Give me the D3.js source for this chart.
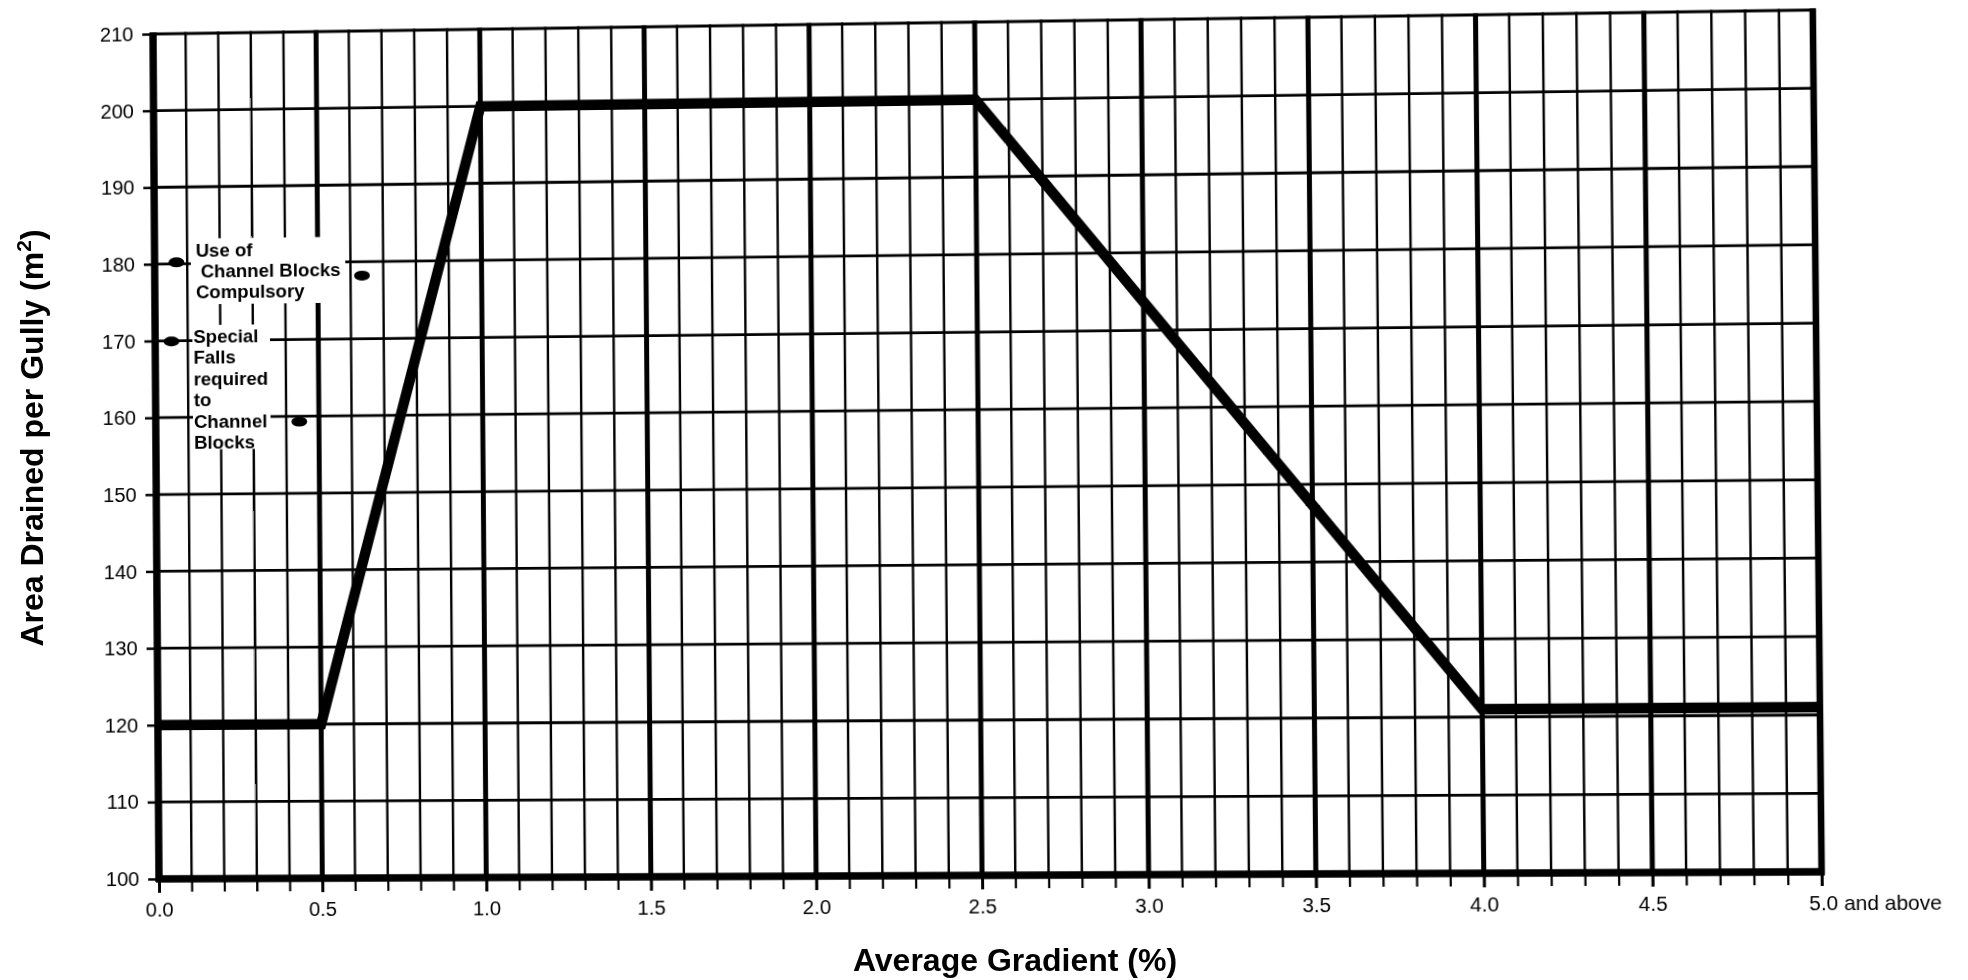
<!DOCTYPE html>
<html>
<head>
<meta charset="utf-8">
<script src="https://cdn.jsdelivr.net/npm/d3@7"></script>
<style>
  html, body { margin: 0; padding: 0; background: #fff; }
  svg { position: absolute; left: 0; top: 0; }
  #sheet { transform-origin: 0 0; }
  text { font-family: "Liberation Sans", Arial, Helvetica, sans-serif; fill: #000; }
</style>
</head>
<body>
<svg id="sheet" width="1968" height="980"></svg>
<svg id="titles" width="1968" height="980"></svg>
<script>
// Design curve: area drained per gully against average gradient
const gradients = [0.0, 0.5, 1.0, 2.5, 4.0, 5.0];
const areas     = [120, 120, 200, 200, 121, 121];

// Axis ticks
const xTickValues = [0, 0.5, 1, 1.5, 2, 2.5, 3, 3.5, 4, 4.5, 5];
const xTickLabels = ["0.0", "0.5", "1.0", "1.5", "2.0", "2.5", "3.0", "3.5", "4.0", "4.5", "5.0 and above"];
const yTickValues = [100, 110, 120, 130, 140, 150, 160, 170, 180, 190, 200, 210];

// Guidance notes on the sheet (extent in gradient / area units)
const noteTexts = [
  ["Use of", " Channel Blocks", "Compulsory"],
  ["Special", "Falls", "required", "to", "Channel", "Blocks"]
];
const noteExtents = [
  { g0: 0.111, g1: 0.585, aTop: 183.3, aBottom: 174.7 },
  { g0: 0.114, g1: 0.352, aTop: 172.0, aBottom: 155.8 }
];
// Arrow heads marking the ends of each note's range
const markerPoints = [[0.067, 180.2], [0.635, 178.2], [0.05, 169.9], [0.44, 159.3]];

// ---- layout ----
const frame = { left: 156, top: 22, right: 1818, bottom: 876 };
// where the four frame corners land on the page (TL, TR, BR, BL): a slightly keystoned sheet
const frameCorners = [[153, 34], [1813, 10], [1822, 872], [159, 879]];

const x = d3.scaleLinear().domain([0, 5]).range([frame.left, frame.right]);
const y = d3.scaleLinear().domain([100, 210]).range([frame.bottom, frame.top]);

// projective map from the frame rectangle to its corner quad, applied as a CSS matrix3d
function frameToQuad(f, q) {
  const [x0, y0] = q[0], [x1, y1] = q[1], [x2, y2] = q[2], [x3, y3] = q[3];
  const dx1 = x1 - x2, dx2 = x3 - x2, dx3 = x0 - x1 + x2 - x3;
  const dy1 = y1 - y2, dy2 = y3 - y2, dy3 = y0 - y1 + y2 - y3;
  const den = dx1 * dy2 - dx2 * dy1;
  const g = (dx3 * dy2 - dx2 * dy3) / den;
  const h = (dx1 * dy3 - dx3 * dy1) / den;
  const S = [
    [x1 - x0 + g * x1, x3 - x0 + h * x3, x0],
    [y1 - y0 + g * y1, y3 - y0 + h * y3, y0],
    [g, h, 1]
  ];
  const w = f.right - f.left, hh = f.bottom - f.top;
  const N = [[1 / w, 0, -f.left / w], [0, 1 / hh, -f.top / hh], [0, 0, 1]];
  const M = [[0, 0, 0], [0, 0, 0], [0, 0, 0]];
  for (let i = 0; i < 3; i++)
    for (let j = 0; j < 3; j++)
      for (let k = 0; k < 3; k++) M[i][j] += S[i][k] * N[k][j];
  return `matrix3d(${M[0][0]},${M[1][0]},0,${M[2][0]},${M[0][1]},${M[1][1]},0,${M[2][1]},0,0,1,0,${M[0][2]},${M[1][2]},0,${M[2][2]})`;
}

const sheet = d3.select("#sheet").style("transform", frameToQuad(frame, frameCorners));

// ---- grid ----
const xGrid = d3.range(0, 51).map(i => i / 10);
const yGrid = d3.range(100, 211, 10);

sheet.append("g").selectAll("line").data(xGrid).join("line")
  .attr("x1", d => x(d)).attr("x2", d => x(d))
  .attr("y1", y(100) + 3).attr("y2", y(210) - 1.5)
  .attr("stroke", "#000")
  .attr("stroke-width", (d, i) => i === 0 ? 7.5 : i === 50 ? 6.5 : (i % 5 === 0 ? 5 : 2.4));

sheet.append("g").selectAll("line").data(yGrid).join("line")
  .attr("x1", x(0) - 3).attr("x2", x(5) + 3)
  .attr("y1", d => y(d)).attr("y2", d => y(d))
  .attr("stroke", "#000")
  .attr("stroke-width", d => d === 100 ? 7.5 : d === 210 ? 3 : 2.8);

// ---- axes ----
sheet.append("g")
  .attr("transform", `translate(0,${y(100)})`)
  .call(d3.axisBottom(x).tickValues(xGrid).tickSize(13).tickFormat(""))
  .call(g => {
    g.select(".domain").remove();
    g.selectAll("text").remove();
    g.selectAll("line").attr("stroke", "#000").attr("stroke-width", 2.2);
  });

sheet.append("g")
  .attr("transform", `translate(0,${y(100)})`)
  .call(d3.axisBottom(x).tickValues(xTickValues).tickSize(14).tickPadding(9)
    .tickFormat((d, i) => xTickLabels[i]))
  .call(g => {
    g.select(".domain").remove();
    g.selectAll("line").attr("stroke", "#000").attr("stroke-width", 3);
    g.selectAll("text").attr("font-size", 20.5).attr("fill", "#000")
      .style("font-family", '"Liberation Sans", Arial, sans-serif');
    g.selectAll("text").filter((d, i) => i === xTickValues.length - 1)
      .attr("text-anchor", "start").attr("x", -13);
  });

sheet.append("g")
  .attr("transform", `translate(${x(0)},0)`)
  .call(d3.axisLeft(y).tickValues(yTickValues).tickSize(11).tickPadding(9).tickFormat(d3.format("d")))
  .call(g => {
    g.select(".domain").remove();
    g.selectAll("line").attr("stroke", "#000").attr("stroke-width", 2.5);
    g.selectAll("text").attr("font-size", 20.5).attr("fill", "#000")
      .style("font-family", '"Liberation Sans", Arial, sans-serif');
  });

// ---- design curve ----
const curve = gradients.map((g, i) => [g, areas[i]]);
sheet.append("path")
  .datum(curve)
  .attr("d", d3.line().x(d => x(d[0])).y(d => y(d[1])))
  .attr("fill", "none")
  .attr("stroke", "#000")
  .attr("stroke-width", 10.5)
  .attr("stroke-linejoin", "miter")
  .attr("stroke-linecap", "butt");

// ---- notes ----
const defs = sheet.append("defs");
const noteLayout = [
  { baseline: 19, step: 21, indent: [5, 10, 5] },
  { baseline: 18, step: 21.4, indent: [1, 1, 1, 1, 1, 1] }
];
noteExtents.forEach((b, k) => {
  const bx = x(b.g0), by = y(b.aTop), bw = x(b.g1) - x(b.g0), bh = y(b.aBottom) - y(b.aTop);
  defs.append("clipPath").attr("id", "note-clip-" + k)
    .append("rect").attr("x", bx).attr("y", by).attr("width", bw).attr("height", bh);
  const g = sheet.append("g").attr("clip-path", `url(#note-clip-${k})`);
  g.append("rect").attr("x", bx).attr("y", by).attr("width", bw).attr("height", bh).attr("fill", "#fff");
  const L = noteLayout[k];
  g.selectAll("text").data(noteTexts[k]).join("text")
    .attr("x", (d, i) => bx + L.indent[i])
    .attr("y", (d, i) => by + L.baseline + i * L.step)
    .attr("font-size", 19)
    .attr("font-weight", "bold")
    .text(d => d.trim());
});

sheet.append("g").selectAll("ellipse").data(markerPoints).join("ellipse")
  .attr("cx", d => x(d[0])).attr("cy", d => y(d[1]))
  .attr("rx", 8).attr("ry", 5)
  .attr("fill", "#000");

// ---- axis titles ----
const titles = d3.select("#titles");
titles.append("text")
  .attr("x", 1015).attr("y", 971)
  .attr("text-anchor", "middle")
  .attr("font-size", 32).attr("font-weight", "bold")
  .text("Average Gradient (%)");

const yTitle = titles.append("text")
  .attr("transform", "translate(43,438) rotate(-90)")
  .attr("text-anchor", "middle")
  .attr("font-size", 32).attr("font-weight", "bold");
yTitle.append("tspan").text("Area Drained per Gully (m");
yTitle.append("tspan").attr("font-size", 21).attr("dy", -12).text("2");
yTitle.append("tspan").attr("dy", 12).text(")");
</script>
</body>
</html>
